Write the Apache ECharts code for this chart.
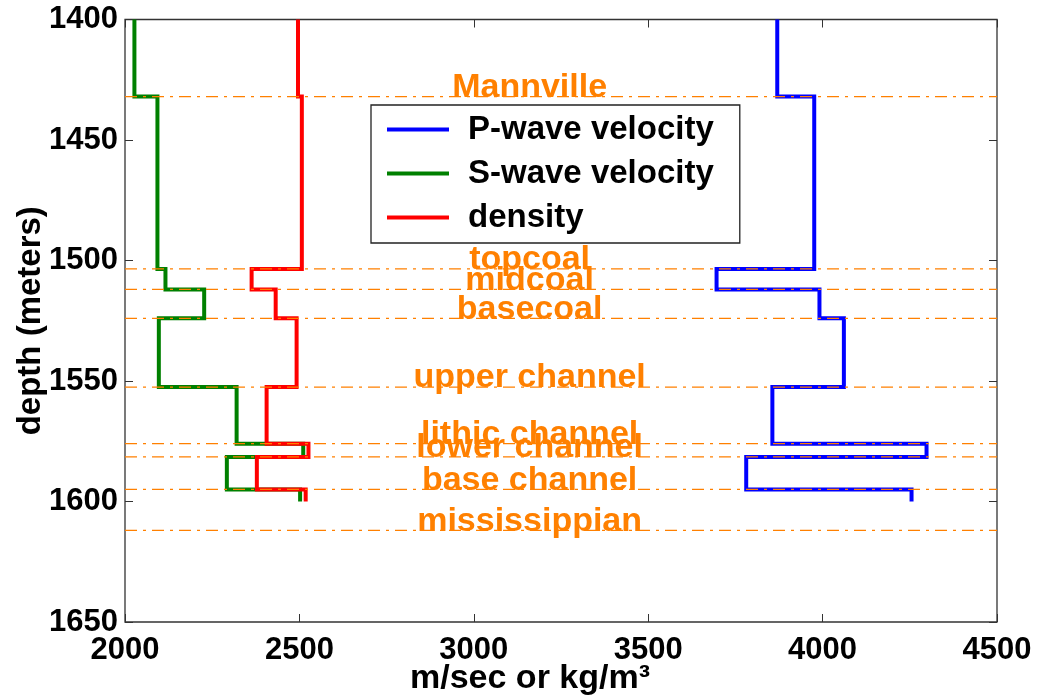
<!DOCTYPE html>
<html>
<head>
<meta charset="utf-8">
<script src="https://cdn.jsdelivr.net/npm/echarts@6/dist/echarts.min.js"></script>
<style>html,body{margin:0;padding:0;background:#fff}#c{width:1037px;height:700px}</style>
</head>
<body>
<div id="c"></div>
<script>
// ---- data ----
const layerTops = [1400, 1432, 1503.5, 1512, 1524, 1552.5, 1576, 1581.5, 1595];
const layerBottom = 1600;
const pWave = [3870, 3976, 3696, 3991, 4061, 3856, 4298, 3781, 4255];
const sWave = [2027, 2093, 2116, 2227, 2097, 2320, 2511, 2292, 2502];
const density = [2496, 2507, 2363, 2432, 2492, 2406, 2526, 2378, 2518];
const horizonNames = ['Mannville', 'topcoal', 'midcoal', 'basecoal', 'upper channel', 'lithic channel', 'lower channel', 'base channel', 'mississippian'];
const horizonDepths = [1432, 1503.5, 1512, 1524, 1552.5, 1576, 1581.5, 1595, 1612];
const horizonLabelX = 3160;
const xTicks = [2000, 2500, 3000, 3500, 4000, 4500];
const yTicks = [1400, 1450, 1500, 1550, 1600, 1650];
const seriesNames = ['P-wave velocity', 'S-wave velocity', 'density'];

function stepPoints(vals) {
  const pts = [];
  for (let i = 0; i < vals.length; i++) {
    const top = layerTops[i];
    const bot = i + 1 < layerTops.length ? layerTops[i + 1] : layerBottom;
    pts.push([vals[i], top]);
    pts.push([vals[i], bot]);
  }
  return pts;
}

const FONT = 'Liberation Sans';
const ORANGE = '#ff8000';
const AX = '#333';

const chart = echarts.init(document.getElementById('c'), null, {renderer: 'canvas'});

const series = [];
const curveVals = [pWave, sWave, density];
const curveColors = ['#0000ff', '#008000', '#ff0000'];
curveVals.forEach((v, i) => {
  series.push({
    name: seriesNames[i], type: 'line', data: stepPoints(v),
    showSymbol: false, symbol: 'none', color: curveColors[i],
    lineStyle: {width: 4, color: curveColors[i], join: 'miter'},
    z: 2 + i, silent: true
  });
});
horizonDepths.forEach((d, i) => {
  series.push({
    type: 'line', data: [[xTicks[0], d], [xTicks[xTicks.length - 1], d]],
    showSymbol: false, symbol: 'none',
    lineStyle: {width: 1.3, color: ORANGE, type: [12, 6, 3, 6]},
    z: 10, silent: true
  });
});
series.push({
  type: 'scatter', symbolSize: 0, z: 11, silent: true,
  itemStyle: {opacity: 1, color: ORANGE},
  data: horizonDepths.map((d, i) => ({value: [horizonLabelX, d], name: horizonNames[i]})),
  label: {
    show: true, position: 'top', distance: -8,
    formatter: p => p.name,
    color: ORANGE, opacity: 1, fontFamily: FONT, fontWeight: 'bold', fontSize: 34
  }
});

const xBase = {
  type: 'value', min: 2000, max: 4500, interval: 500,
  splitLine: {show: false},
  axisLine: {show: false},
  axisTick: {show: true, inside: true, length: 8, lineStyle: {color: AX, width: 1}}
};
const yBase = {
  type: 'value', min: 1400, max: 1650, interval: 50, inverse: true,
  splitLine: {show: false},
  axisLine: {show: false},
  axisTick: {show: true, inside: true, length: 8, lineStyle: {color: AX, width: 1}}
};

chart.setOption({
  animation: false,
  backgroundColor: '#fff',
  grid: {left: 125, right: 40, top: 19.5, bottom: 78, containLabel: false, outerBoundsMode: 'none',
    show: true, borderColor: AX, borderWidth: 1.3, backgroundColor: 'transparent'},
  legend: {
    data: seriesNames, orient: 'vertical', left: 371, top: 105,
    icon: 'rect', itemWidth: 62, itemHeight: 4, itemGap: 11,
    padding: [8, 26, 9, 16],
    backgroundColor: '#fff', borderColor: '#222', borderWidth: 1.3,
    textStyle: {fontFamily: FONT, fontWeight: 'bold', fontSize: 33, color: '#000', lineHeight: 32, padding: [0, 0, 0, 14]},
    selectedMode: false
  },
  xAxis: [
    Object.assign({}, xBase, {
      position: 'bottom',
      axisLabel: {show: true, margin: 13, color: '#000', fontFamily: FONT, fontWeight: 'bold', fontSize: 31, formatter: v => String(v)},
      name: 'm/sec or kg/m³', nameLocation: 'middle', nameGap: 40, nameMoveOverlap: false,
      nameTextStyle: {color: '#000', fontFamily: FONT, fontWeight: 'bold', fontSize: 34, padding: [0, 62, 0, 0]}
    }),
    Object.assign({}, xBase, {position: 'top', axisLabel: {show: false}})
  ],
  yAxis: [
    Object.assign({}, yBase, {
      position: 'left',
      axisLabel: {show: true, margin: 7, color: '#000', fontFamily: FONT, fontWeight: 'bold', fontSize: 31, formatter: v => String(v)},
      name: 'depth (meters)', nameLocation: 'middle', nameGap: 78, nameRotate: 90, nameMoveOverlap: false,
      nameTextStyle: {color: '#000', fontFamily: FONT, fontWeight: 'bold', fontSize: 33}
    }),
    Object.assign({}, yBase, {position: 'right', axisLabel: {show: false}})
  ],
  series: series
});
</script>
</body>
</html>
